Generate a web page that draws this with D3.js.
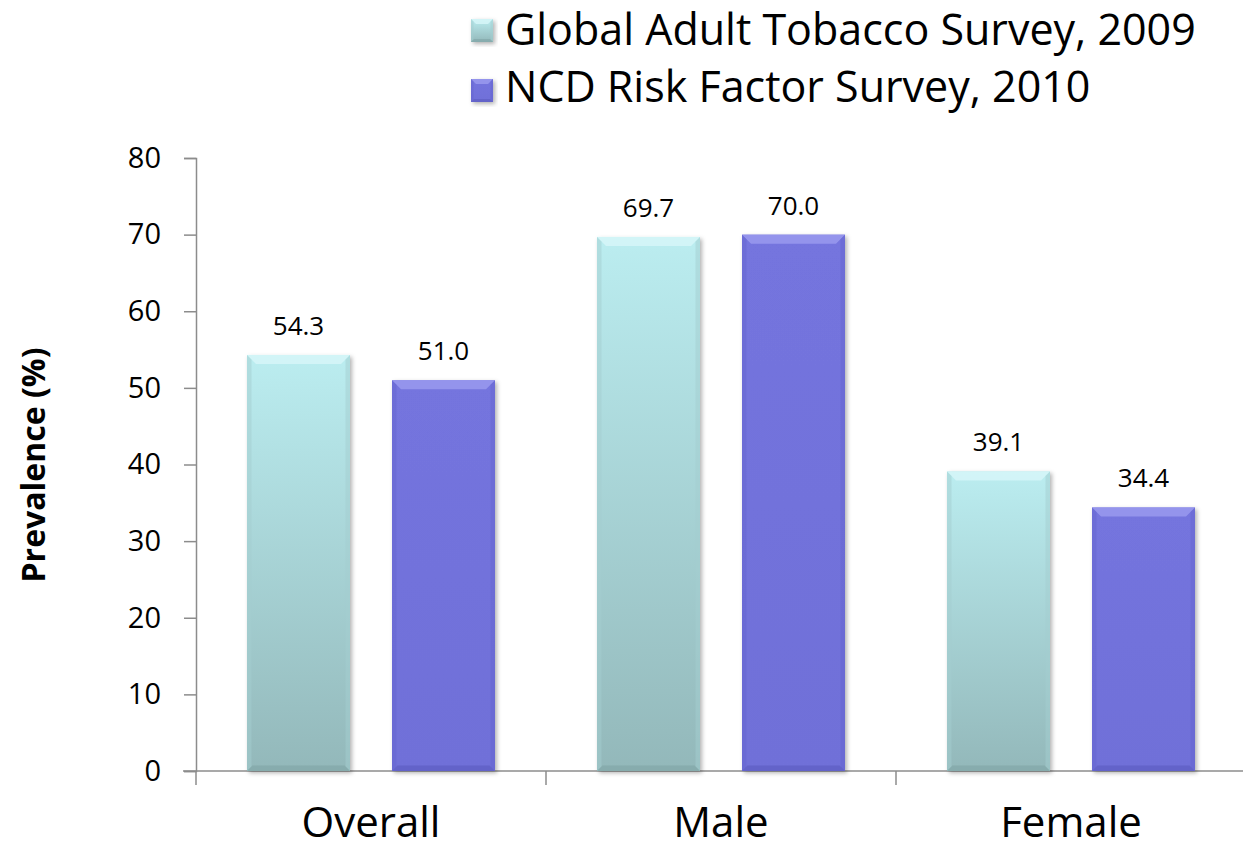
<!DOCTYPE html>
<html>
<head>
<meta charset="utf-8">
<script src="https://cdn.jsdelivr.net/npm/d3@7"></script>
<style>
  body { margin: 0; background: #fff; }
  text { font-family: "Open Sans", "Noto Sans", sans-serif; fill: #000; }
</style>
</head>
<body>
<div id="chart"></div>
<script>
var width = 1243;
var height = 850;

var categories = ["Overall", "Male", "Female"];
var seriesNames = ["Global Adult Tobacco Survey, 2009", "NCD Risk Factor Survey, 2010"];
var gatsValues = [54.3, 69.7, 39.1];
var ncdValues = [51.0, 70.0, 34.4];
var yTicks = [0, 10, 20, 30, 40, 50, 60, 70, 80];

var svg = d3.select("#chart")
  .append("svg")
  .attr("width", width)
  .attr("height", height);

var defs = svg.append("defs");

var g1 = defs.append("linearGradient").attr("id", "gats").attr("x1", 0).attr("y1", 0).attr("x2", 0).attr("y2", 1);
g1.append("stop").attr("offset", "0%").attr("stop-color", "#bbedf0");
g1.append("stop").attr("offset", "100%").attr("stop-color", "#93b8ba");

var g2 = defs.append("linearGradient").attr("id", "ncd").attr("x1", 0).attr("y1", 0).attr("x2", 0).attr("y2", 1);
g2.append("stop").attr("offset", "0%").attr("stop-color", "#7474de");
g2.append("stop").attr("offset", "100%").attr("stop-color", "#7070d8");

var shadow = defs.append("filter").attr("id", "shadow").attr("x", "-10%").attr("y", "-10%").attr("width", "130%").attr("height", "130%");
shadow.append("feDropShadow").attr("dx", 2).attr("dy", 2).attr("stdDeviation", 2)
  .attr("flood-color", "#000").attr("flood-opacity", 0.3);

var x = d3.scaleBand().domain(categories).range([196, 1246]);
var y = d3.scaleLinear().domain([0, 80]).range([771, 158]);

var barW = 103, gap = 42;
var series = [
  { name: seriesNames[0], values: gatsValues, fill: "url(#gats)", top: "#d6f6f8", side: "#a3cdd0", bottom: "#7fa3a5" },
  { name: seriesNames[1], values: ncdValues, fill: "url(#ncd)", top: "#9a9aee", side: "#6666cf", bottom: "#5a5ac0" }
];

// bevelled block used for bars and legend keys
function bevel(sel, s, bx, by, bw, bh, b){
  sel.append("rect")
    .attr("x", bx).attr("y", by).attr("width", bw).attr("height", bh)
    .attr("fill", s.fill);
  sel.append("path")
    .attr("d", function(d, i){
      var x0 = bx(d, i), y0 = by(d, i), w = bw;
      return "M" + x0 + "," + y0 + "L" + (x0 + w) + "," + y0 +
        "L" + (x0 + w - b) + "," + (y0 + b) + "L" + (x0 + b) + "," + (y0 + b) + "Z";
    })
    .attr("fill", s.top).attr("opacity", 0.85);
  sel.append("path")
    .attr("d", function(d, i){
      var x0 = bx(d, i), y0 = by(d, i), y1 = y0 + bh(d, i), w = bw, e = Math.max(2, b / 2);
      return "M" + x0 + "," + y0 + "L" + (x0 + e) + "," + (y0 + e) +
        "L" + (x0 + e) + "," + (y1 - e) + "L" + x0 + "," + y1 + "Z" +
        "M" + (x0 + w) + "," + y0 + "L" + (x0 + w - e) + "," + (y0 + e) +
        "L" + (x0 + w - e) + "," + (y1 - e) + "L" + (x0 + w) + "," + y1 + "Z";
    })
    .attr("fill", s.side).attr("opacity", 0.5);
  sel.append("path")
    .attr("d", function(d, i){
      var x0 = bx(d, i), y1 = by(d, i) + bh(d, i), w = bw, e = Math.max(2, b * 0.6);
      return "M" + x0 + "," + y1 + "L" + (x0 + w) + "," + y1 +
        "L" + (x0 + w - e) + "," + (y1 - e) + "L" + (x0 + e) + "," + (y1 - e) + "Z";
    })
    .attr("fill", s.bottom).attr("opacity", 0.6);
}

// axes
var yAxis = svg.append("g")
  .attr("transform", "translate(196,0)")
  .call(d3.axisLeft(y).tickValues(yTicks).tickSize(12).tickPadding(23));
yAxis.select(".domain").attr("stroke", "#8c8c8c").attr("stroke-width", 1.5);
yAxis.selectAll(".tick line").attr("stroke", "#8c8c8c").attr("stroke-width", 1.5);
yAxis.selectAll(".tick text").attr("font-size", 29).attr("font-family", "Open Sans");

var xAxis = svg.append("g")
  .attr("transform", "translate(0,771)");
xAxis.append("line").attr("x1", 183).attr("x2", 1246).attr("stroke", "#8c8c8c").attr("stroke-width", 1.5);
xAxis.selectAll(".ct")
  .data(categories.concat(["end"]))
  .enter().append("line")
  .attr("x1", function(d, i){ return 196 + i * x.bandwidth(); })
  .attr("x2", function(d, i){ return 196 + i * x.bandwidth(); })
  .attr("y1", 0).attr("y2", 14)
  .attr("stroke", "#8c8c8c").attr("stroke-width", 1.5);

xAxis.selectAll(".cl")
  .data(categories)
  .enter().append("text")
  .attr("x", function(d){ return x(d) + x.bandwidth() / 2; })
  .attr("y", 66)
  .attr("text-anchor", "middle")
  .attr("font-size", 42)
  .text(function(d){ return d; });

// bars
series.forEach(function(s, si){
  function bx(d, i){
    var c = x(categories[i]) + x.bandwidth() / 2;
    return si === 0 ? c - gap / 2 - barW : c + gap / 2;
  }
  var bars = svg.append("g").selectAll("g")
    .data(s.values)
    .enter().append("g")
    .attr("filter", "url(#shadow)");

  bevel(bars, s, bx, function(d){ return y(d); }, barW, function(d){ return y(0) - y(d); }, 9);

  svg.append("g").selectAll("text")
    .data(s.values)
    .enter().append("text")
    .attr("x", function(d, i){ return bx(d, i) + barW / 2; })
    .attr("y", function(d){ return y(d) - 20; })
    .attr("text-anchor", "middle")
    .attr("font-size", 26)
    .text(function(d){ return d.toFixed(1); });
});

// y title
svg.append("text")
  .attr("transform", "translate(45,465) rotate(-90)")
  .attr("text-anchor", "middle")
  .attr("font-size", 32)
  .attr("font-weight", "bold")
  .text("Prevalence (%)");

// legend
series.forEach(function(s, i){
  var lg = svg.append("g")
    .attr("transform", "translate(471," + (19 + i * 60) + ")")
    .attr("filter", "url(#shadow)");
  bevel(lg.selectAll("g").data([0]).enter().append("g"), s,
    function(){ return 0; }, function(){ return 0; }, 22, function(){ return 23; }, 5);
  svg.append("text")
    .attr("x", 505)
    .attr("y", 45 + i * 57)
    .attr("font-size", 43)
    .text(s.name);
});
</script>
</body>
</html>
